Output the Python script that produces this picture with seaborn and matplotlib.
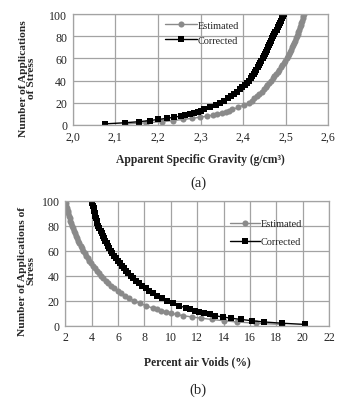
import matplotlib
matplotlib.use("Agg")
import matplotlib.pyplot as plt
import seaborn as sns
import pandas as pd
from matplotlib.ticker import FixedLocator, FuncFormatter

sns.set_style("white")
plt.rcParams["font.family"] = ["Liberation Serif", "DejaVu Serif"]

# Number of applications of stress (shared by all series)
n_apps = [1, 2, 3, 4, 5, 6, 7, 8, 9, 10, 11, 12, 13, 14, 16, 18, 20, 22, 24, 26, 28,
          30, 32, 34, 36, 38, 40, 42, 44, 46, 48, 50, 52, 54, 56, 58, 60, 62, 64, 66,
          68, 70, 72, 74, 76, 78, 80, 82, 84, 86, 88, 90, 92, 94, 96, 98, 100]

# (a) Apparent specific gravity (g/cm3)
gsb_estimated = [2.1216, 2.1723, 2.2100, 2.2360, 2.2586, 2.2802, 2.2984, 2.3158, 2.3283,
                 2.3395, 2.3494, 2.3587, 2.3673, 2.3751, 2.3891, 2.4016, 2.4130, 2.4201,
                 2.4267, 2.4327, 2.4382, 2.4434, 2.4483, 2.4528, 2.4571, 2.4612, 2.4650,
                 2.4695, 2.4736, 2.4777, 2.4816, 2.4853, 2.4888, 2.4923, 2.4956, 2.4988,
                 2.5020, 2.5047, 2.5074, 2.5100, 2.5125, 2.5148, 2.5172, 2.5194, 2.5217,
                 2.5238, 2.5260, 2.5279, 2.5297, 2.5315, 2.5332, 2.5350, 2.5366, 2.5382,
                 2.5398, 2.5414, 2.5430]
gsb_corrected = [2.0748, 2.1216, 2.1562, 2.1804, 2.2014, 2.2212, 2.2378, 2.2534, 2.2633,
                 2.2742, 2.2841, 2.2932, 2.3015, 2.3093, 2.3231, 2.3353, 2.3460, 2.3550,
                 2.3635, 2.3715, 2.3790, 2.3860, 2.3920, 2.3980, 2.4035, 2.4090, 2.4140,
                 2.4175, 2.4210, 2.4245, 2.4280, 2.4310, 2.4340, 2.4370, 2.4400, 2.4430,
                 2.4460, 2.4485, 2.4510, 2.4535, 2.4560, 2.4585, 2.4610, 2.4635, 2.4660,
                 2.4685, 2.4710, 2.4735, 2.4760, 2.4785, 2.4810, 2.4835, 2.4860, 2.4885,
                 2.4910, 2.4935, 2.4960]

# (b) Percent air voids (%)
va_estimated = [18.40, 16.45, 15.00, 14.00, 13.13, 12.30, 11.60, 10.93, 10.45, 10.02,
                9.64, 9.28, 8.95, 8.65, 8.11, 7.63, 7.20, 6.85, 6.54, 6.25, 5.98, 5.73,
                5.49, 5.27, 5.06, 4.86, 4.68, 4.52, 4.37, 4.23, 4.09, 3.96, 3.83, 3.71,
                3.59, 3.48, 3.37, 3.27, 3.17, 3.07, 2.98, 2.89, 2.80, 2.72, 2.64, 2.56,
                2.48, 2.43, 2.37, 2.33, 2.28, 2.23, 2.18, 2.13, 2.09, 2.04, 2.00]
va_corrected = [20.20, 18.40, 17.07, 16.14, 15.33, 14.57, 13.93, 13.33, 12.95, 12.53,
                12.15, 11.80, 11.48, 11.18, 10.65, 10.18, 9.70, 9.33, 8.98, 8.67, 8.37,
                8.10, 7.85, 7.61, 7.37, 7.16, 6.95, 6.77, 6.60, 6.43, 6.27, 6.12, 5.97,
                5.83, 5.70, 5.57, 5.44, 5.33, 5.23, 5.13, 5.03, 4.94, 4.84, 4.76, 4.67,
                4.58, 4.50, 4.44, 4.39, 4.34, 4.29, 4.24, 4.19, 4.14, 4.09, 4.05, 4.00]

series_labels = ["Estimated", "Corrected"]
xticks_a = [2.0, 2.1, 2.2, 2.3, 2.4, 2.5, 2.6]
xticks_b = [2, 4, 6, 8, 10, 12, 14, 16, 18, 20, 22]
yticks = [0, 20, 40, 60, 80, 100]

GRAY = "#8a8a8a"
GRID = "#a3a3a3"
W, H = 345, 402
fig = plt.figure(figsize=(W / 100, H / 100), dpi=100)


def px_axes(l, t, r, b):
    return fig.add_axes([l / W, 1 - b / H, (r - l) / W, (b - t) / H])


def style(ax):
    ax.set_yticks(yticks)
    ax.set_ylim(0, 100)
    ax.grid(True, color=GRID, lw=0.9)
    ax.set_axisbelow(True)
    for s in ax.spines.values():
        s.set_color(GRID)
        s.set_linewidth(0.9)
    ax.tick_params(length=0, labelsize=8.6, pad=4)


def draw(ax, df):
    sns.lineplot(data=df, x="est", y="N", ax=ax, color=GRAY, lw=1.0, marker="o",
                 markersize=4.4, markeredgewidth=0, estimator=None, sort=False,
                 label=series_labels[0])
    sns.lineplot(data=df, x="cor", y="N", ax=ax, color="black", lw=1.0, marker="s",
                 markersize=4.6, markeredgewidth=0, estimator=None, sort=False,
                 label=series_labels[1])


df_a = pd.DataFrame({"N": n_apps, "est": gsb_estimated, "cor": gsb_corrected})
df_b = pd.DataFrame({"N": n_apps, "est": va_estimated, "cor": va_corrected})

# ---------- (a)
ax1 = px_axes(72.7, 15, 328.3, 126)
draw(ax1, df_a)
ax1.set_xlim(2.0, 2.6)
ax1.xaxis.set_major_locator(FixedLocator(xticks_a))
ax1.xaxis.set_major_formatter(FuncFormatter(lambda v, p: f"{v:.1f}".replace(".", ",")))
style(ax1)
ax1.set_xlabel("Apparent Specific Gravity (g/cm³)", fontsize=8.4, fontweight="bold")
ax1.set_ylabel("Number of Applications\nof Stress", fontsize=8.2, fontweight="bold",
               linespacing=0.9)
ax1.xaxis.set_label_coords(0.5, -0.255)
ax1.yaxis.set_label_coords(-0.142, 0.43)
ax1.legend(loc="center left", bbox_to_anchor=(0.36, 0.83), frameon=False, fontsize=7.4,
           handlelength=3.1, handletextpad=0.1, labelspacing=0.55, borderpad=0,
           borderaxespad=0)

# ---------- (b)
ax2 = px_axes(65.3, 201.7, 329, 326.7)
draw(ax2, df_b)
ax2.set_xlim(2, 22)
ax2.xaxis.set_major_locator(FixedLocator(xticks_b))
style(ax2)
ax2.set_xlabel("Percent air Voids (%)", fontsize=8.4, fontweight="bold")
ax2.set_ylabel("Number of Applications of\nStress", fontsize=8.2, fontweight="bold",
               linespacing=0.9)
ax2.xaxis.set_label_coords(0.5, -0.235)
ax2.yaxis.set_label_coords(-0.115, 0.446)
ax2.legend(loc="center left", bbox_to_anchor=(0.625, 0.745), frameon=False, fontsize=7.4,
           handlelength=2.9, handletextpad=0.1, labelspacing=0.85, borderpad=0,
           borderaxespad=0)

fig.text(198 / W, 1 - 183 / H, "(a)", ha="center", va="center", fontsize=10.5)
fig.text(198 / W, 1 - 390 / H, "(b)", ha="center", va="center", fontsize=10.5)

fig.savefig("out.png", dpi=100, facecolor="white")
